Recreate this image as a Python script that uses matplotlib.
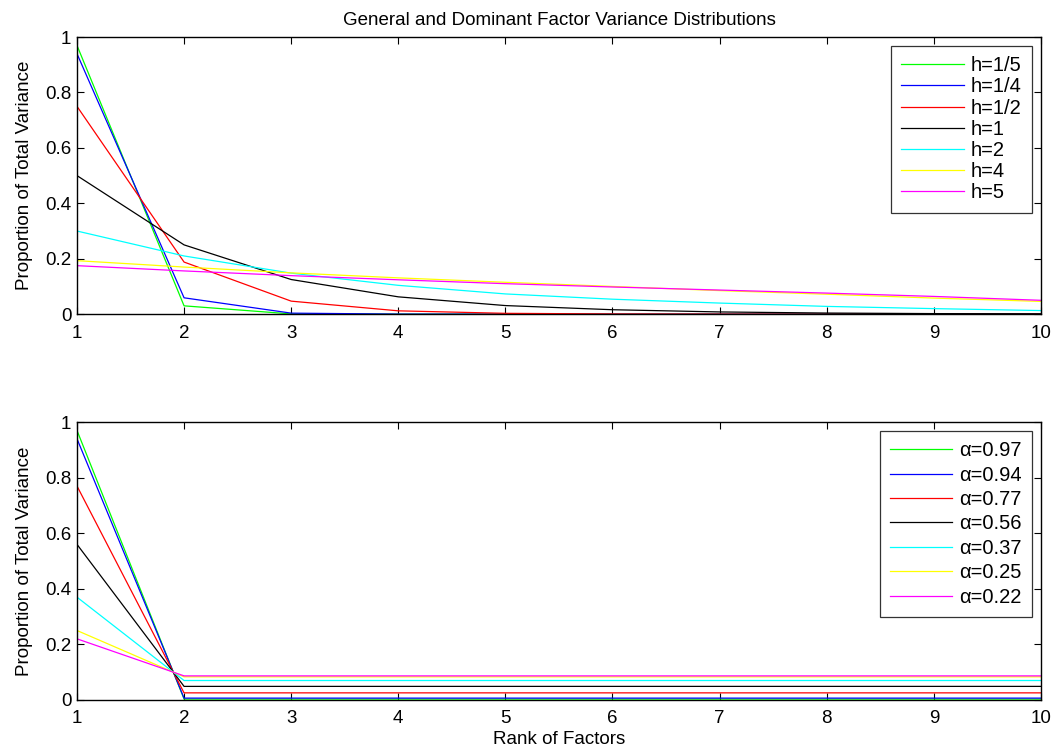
import matplotlib
matplotlib.use("Agg")
import matplotlib.pyplot as plt
import numpy as np

plt.rcParams['font.family'] = ['Liberation Sans', 'DejaVu Sans']

ranks = [1, 2, 3, 4, 5, 6, 7, 8, 9, 10]

# Top panel: general factor distributions
h_labels = ['h=1/5', 'h=1/4', 'h=1/2', 'h=1', 'h=2', 'h=4', 'h=5']
h_15 = [0.97, 0.03, 0.0009, 0.00003, 0.0, 0.0, 0.0, 0.0, 0.0, 0.0]
h_14 = [0.94, 0.059, 0.0037, 0.0002, 0.0, 0.0, 0.0, 0.0, 0.0, 0.0]
h_12 = [0.75, 0.188, 0.047, 0.012, 0.003, 0.0007, 0.0002, 0.00005, 0.00001, 0.0]
h_1 = [0.5, 0.25, 0.125, 0.0625, 0.031, 0.016, 0.008, 0.004, 0.002, 0.001]
h_2 = [0.30, 0.21, 0.148, 0.104, 0.073, 0.054, 0.040, 0.028, 0.020, 0.013]
h_4 = [0.193, 0.170, 0.149, 0.131, 0.115, 0.100, 0.085, 0.072, 0.058, 0.046]
h_5 = [0.175, 0.156, 0.139, 0.124, 0.110, 0.098, 0.087, 0.076, 0.064, 0.050]

# Bottom panel: dominant factor distributions
a_labels = ['α=0.97', 'α=0.94', 'α=0.77', 'α=0.56', 'α=0.37', 'α=0.25', 'α=0.22']
a_97 = [0.97] + [0.0033] * 9
a_94 = [0.94] + [0.0067] * 9
a_77 = [0.77] + [0.0256] * 9
a_56 = [0.56] + [0.0489] * 9
a_37 = [0.37] + [0.070] * 9
a_25 = [0.25] + [0.0833] * 9
a_22 = [0.22] + [0.0867] * 9

colors = ['#00ff00', '#0000ff', '#ff0000', '#000000', '#00ffff', '#ffff00', '#ff00ff']

FS = 13.5
LFS = 14.5

fig = plt.figure(figsize=(10.6, 7.48), dpi=100)
ax1 = fig.add_axes([0.0726, 0.580, 0.9094, 0.3705])
ax2 = fig.add_axes([0.0726, 0.0642, 0.9094, 0.3716])

top_series = [h_15, h_14, h_12, h_1, h_2, h_4, h_5]
bot_series = [a_97, a_94, a_77, a_56, a_37, a_25, a_22]

for ys, c, lab in zip(top_series, colors, h_labels):
    ax1.plot(ranks, ys, color=c, lw=0.9, label=lab)
for ys, c, lab in zip(bot_series, colors, a_labels):
    ax2.plot(ranks, ys, color=c, lw=0.9, label=lab)

for ax, lsp, xpad in ((ax1, 0.11, 8), (ax2, 0.27, 7)):
    ax.set_xlim(1, 10)
    ax.set_ylim(0, 1)
    ax.set_xticks(ranks)
    ax.set_yticks([0, 0.2, 0.4, 0.6, 0.8, 1])
    ax.set_yticklabels(['0', '0.2', '0.4', '0.6', '0.8', '1'])
    ax.tick_params(direction='in', top=True, right=True, labelsize=FS, length=5, width=0.8)
    ax.tick_params(axis='x', pad=xpad)
    ax.tick_params(axis='y', pad=4)
    for s in ax.spines.values():
        s.set_linewidth(1.0)
    ax.set_ylabel('Proportion of Total Variance', fontsize=FS, labelpad=9)
    leg = ax.legend(loc='upper right', fontsize=LFS, handlelength=3.1, frameon=True,
                    fancybox=False, edgecolor='black', labelspacing=lsp,
                    borderpad=0.5, handletextpad=0.35, borderaxespad=0.45)
    leg.get_frame().set_linewidth(0.9)

ax1.set_title('General and Dominant Factor Variance Distributions', fontsize=FS, pad=9)
ax2.set_xlabel('Rank of Factors', fontsize=FS, labelpad=3)

fig.savefig('out.png', dpi=100)
